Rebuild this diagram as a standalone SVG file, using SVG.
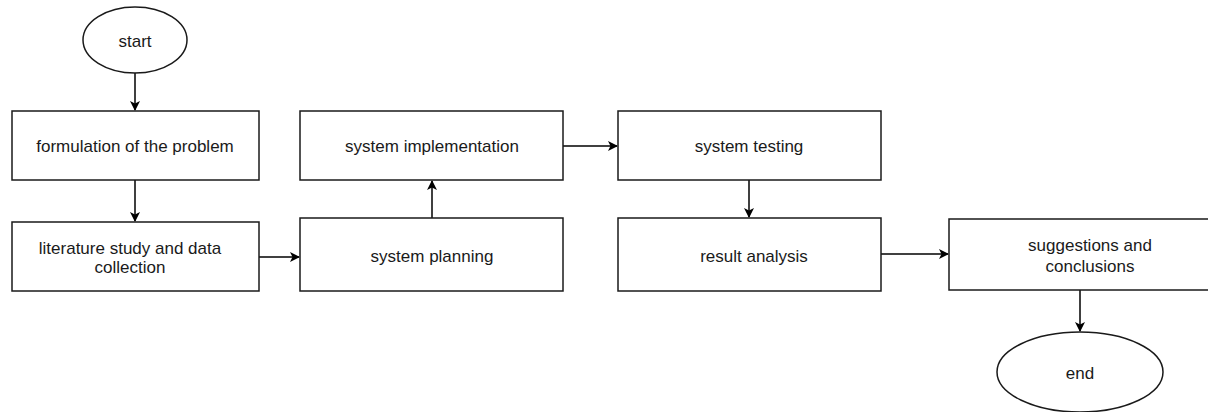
<svg xmlns="http://www.w3.org/2000/svg" width="1208" height="412" viewBox="0 0 1208 412">
<style>
.n{fill:#fff;stroke:#1a1a1a;stroke-width:1.5}
.t{font-family:"Liberation Sans",Arial,sans-serif;font-size:17px;fill:#1a1a1a;text-anchor:middle;dominant-baseline:central}
.c{fill:none;stroke:#000;stroke-width:1.5}
</style>
<defs>
<marker id="a" viewBox="0 0 10 10" refX="9" refY="5" markerWidth="10" markerHeight="10" markerUnits="userSpaceOnUse" orient="auto">
<path d="M0,0 L10,5 L0,10 L2.5,5 Z" fill="#000"/>
</marker>
</defs>
<rect width="1208" height="412" fill="#fff"/>
<g id="connectors">
<path class="c" d="M135,73 V110" marker-end="url(#a)"/>
<path class="c" d="M135,180 V221" marker-end="url(#a)"/>
<path class="c" d="M259,257 H299" marker-end="url(#a)"/>
<path class="c" d="M432,218 V181" marker-end="url(#a)"/>
<path class="c" d="M563,146 H617" marker-end="url(#a)"/>
<path class="c" d="M749,180 V217" marker-end="url(#a)"/>
<path class="c" d="M881,254 H948" marker-end="url(#a)"/>
<path class="c" d="M1080,290 V331" marker-end="url(#a)"/>
</g>
<g id="start"><ellipse class="n" cx="135" cy="40" rx="52" ry="33"/><text class="t" x="135" y="41">start</text></g>
<g id="formulation"><rect class="n" x="12" y="111" width="247" height="69"/><text class="t" x="135" y="146">formulation of the problem</text></g>
<g id="literature"><rect class="n" x="12" y="222" width="247" height="69"/><text class="t" x="130" y="248">literature study and data</text><text class="t" x="130" y="267">collection</text></g>
<g id="planning"><rect class="n" x="300" y="218" width="263" height="73"/><text class="t" x="432" y="256">system planning</text></g>
<g id="implementation"><rect class="n" x="300" y="111" width="263" height="69"/><text class="t" x="432" y="146">system implementation</text></g>
<g id="testing"><rect class="n" x="618" y="111" width="263" height="69"/><text class="t" x="749" y="146">system testing</text></g>
<g id="analysis"><rect class="n" x="618" y="218" width="263" height="73"/><text class="t" x="754" y="256">result analysis</text></g>
<g id="suggestions"><rect class="n" x="949" y="219" width="262" height="71"/><text class="t" x="1090" y="245">suggestions and</text><text class="t" x="1090" y="266">conclusions</text></g>
<g id="end"><ellipse class="n" cx="1080" cy="372" rx="83" ry="40"/><text class="t" x="1080" y="373">end</text></g>
</svg>
